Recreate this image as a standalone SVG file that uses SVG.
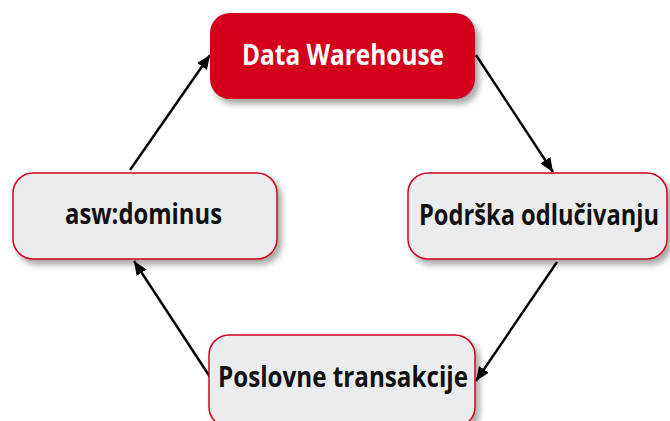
<svg xmlns="http://www.w3.org/2000/svg" width="670" height="421" viewBox="0 0 670 421">
<defs>
<filter id="sh" x="-10%" y="-10%" width="130%" height="140%">
<feGaussianBlur in="SourceAlpha" stdDeviation="3"/>
<feOffset dx="4" dy="5" result="b"/>
<feComponentTransfer><feFuncA type="linear" slope="0.35"/></feComponentTransfer>
<feMerge><feMergeNode/><feMergeNode in="SourceGraphic"/></feMerge>
</filter>
<marker id="ah" viewBox="0 0 14 12" refX="14" refY="6" markerWidth="14" markerHeight="12" markerUnits="userSpaceOnUse" orient="auto">
<path d="M0,0 L14,6 L0,12 z" fill="#000"/>
</marker>
<style>
.box{fill:#ebeced;stroke:#d4001f;stroke-width:1.5;filter:url(#sh)}
.red{fill:#d4001f;filter:url(#sh)}
.t{font-family:"Open Sans","Noto Sans",sans-serif;font-weight:700;font-size:28px;text-anchor:middle;fill:#111}
.w{fill:#fff}
.c{stroke:#000;stroke-width:2.4;fill:none;marker-end:url(#ah)}
</style>
</defs>
<g id="connectors">
<line class="c" x1="476" y1="55" x2="553" y2="172"/>
<line class="c" x1="557" y1="262" x2="476" y2="381"/>
<line class="c" x1="212" y1="380" x2="134" y2="261"/>
<line class="c" x1="130" y1="170" x2="210" y2="55"/>
</g>
<g id="data-warehouse">
<rect class="red" x="210" y="13" width="265" height="86" rx="20"/>
<text class="t w" x="343" y="65" textLength="202" lengthAdjust="spacingAndGlyphs">Data Warehouse</text>
</g>
<g id="podrska">
<rect class="box" x="408" y="173" width="259" height="86" rx="20"/>
<text class="t" transform="translate(539,225) scale(0.8,1)" x="0" y="0" textLength="300" lengthAdjust="spacingAndGlyphs">Podrška odlučivanju</text>
</g>
<g id="asw">
<rect class="box" x="13" y="173" width="264" height="86" rx="20"/>
<text class="t" x="143.5" y="224" textLength="157" lengthAdjust="spacingAndGlyphs">asw:dominus</text>
</g>
<g id="poslovne">
<rect class="box" x="209" y="335" width="266" height="92" rx="20"/>
<text class="t" x="343" y="387" textLength="250" lengthAdjust="spacingAndGlyphs">Poslovne transakcije</text>
</g>
</svg>
